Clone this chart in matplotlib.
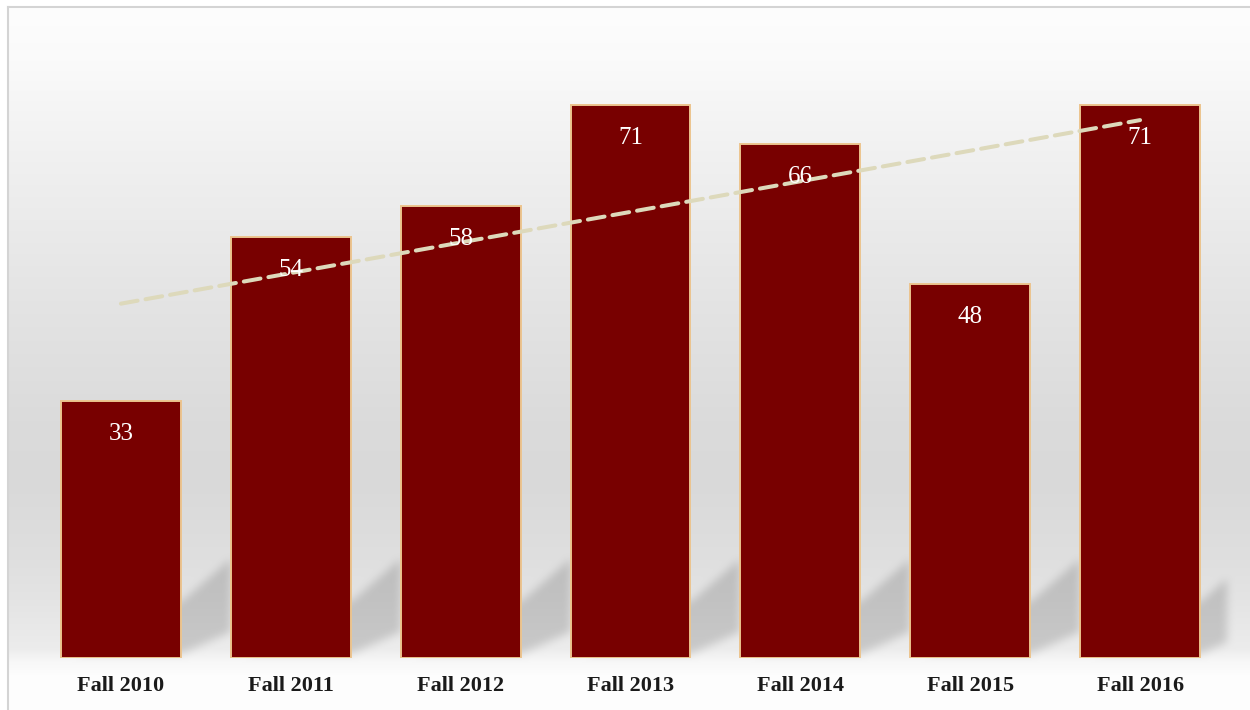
import numpy as np
import matplotlib
matplotlib.use("Agg")
import matplotlib.pyplot as plt
from matplotlib.path import Path
from matplotlib.lines import Line2D

categories = ["Fall 2010", "Fall 2011", "Fall 2012", "Fall 2013", "Fall 2014", "Fall 2015", "Fall 2016"]
values = [33, 54, 58, 71, 66, 48, 71]

W, H = 1250, 710
fig = plt.figure(figsize=(W / 100, H / 100), dpi=100)
fig.patch.set_facecolor("white")

# main axes (pixel layout)
left, right, top, bottom = 36, 1225, 35, 658
ax = fig.add_axes([left / W, (H - bottom) / H, (right - left) / W, (bottom - top) / H], zorder=2)
ax.patch.set_alpha(0)
x = np.arange(len(categories))
ax.set_xlim(-0.5, len(categories) - 0.5)
ax.set_ylim(0, 80)

# ---- background gradient + shadows (decoration) ----
rows = np.arange(H)
prof_r = [0, 8, 60, 150, 300, 420, 480, 560, 600, 648, 662, 675, 710]
prof_v = [255, 253, 250, 241, 228, 219, 217, 223, 228, 236, 248, 253, 254]
col = np.interp(rows, prof_r, prof_v) / 255.0
bg = np.ones((H, W)) * col[:, None]
bg[:, :9] = 1.0
bg[:8, :] = 1.0

bw = 0.705
mask = np.zeros((H, W))
yy, xx = np.mgrid[0:H, 0:W]
pts = np.column_stack([xx.ravel() + 0.5, yy.ravel() + 0.5])
for i, v in enumerate(values):
    xr_disp = ax.transData.transform((x[i] + bw / 2, 0))[0]
    xl_disp = ax.transData.transform((x[i] - bw / 2, 0))[0]
    yb = bottom - 4
    d = 50
    poly = [(xl_disp + 20, yb), (xr_disp, yb), (xr_disp + d, yb - 22),
            (xr_disp + d, yb - 95), (xr_disp, yb - 52), (xl_disp + 20, yb - 52)]
    p = Path(poly)
    m = p.contains_points(pts).reshape(H, W)
    mask = np.maximum(mask, m.astype(float))
mask[:, 1227:] = 0

def box_blur(a, r):
    k = np.ones(2 * r + 1) / (2 * r + 1)
    a = np.apply_along_axis(lambda c: np.convolve(c, k, mode="same"), 0, a)
    a = np.apply_along_axis(lambda c: np.convolve(c, k, mode="same"), 1, a)
    return a

mask = box_blur(box_blur(mask, 5), 4)
bg = bg * (1 - 0.15 * mask)
rgb = np.dstack([bg, bg, bg])

bg_ax = fig.add_axes([0, 0, 1, 1], zorder=0)
bg_ax.imshow(rgb, extent=(0, W, H, 0), aspect="auto", interpolation="bilinear")
bg_ax.set_xlim(0, W)
bg_ax.set_ylim(H, 0)
bg_ax.axis("off")

# frame lines
fig.add_artist(Line2D([8 / W, 8 / W], [0, (H - 7) / H], color="#d4d4d4", lw=1.5, transform=fig.transFigure, zorder=3))
fig.add_artist(Line2D([8 / W, 1], [(H - 7) / H, (H - 7) / H], color="#d4d4d4", lw=1.5, transform=fig.transFigure, zorder=3))

# ---- bars ----
ax.bar(x, values, width=bw, color="#780000", edgecolor="#ecc48e", linewidth=1.4, zorder=2)

# value labels
for xi, v in zip(x, values):
    ax.annotate(str(v), (xi, v), xytext=(0, -23.5), textcoords="offset points",
                ha="center", va="center", color="white", fontsize=18,
                family="Liberation Serif", zorder=5)

# linear trendline
coef = np.polyfit(x, values, 1)
ax.plot(x[[0, -1]], np.polyval(coef, x[[0, -1]]), color="#ddd9bb", lw=2.9,
        dashes=(4.2, 2.0), dash_capstyle="round", zorder=4)

ax.set_xticks(x)
ax.set_xticklabels(categories, fontsize=16, fontweight="bold", family="Liberation Serif", color="#1a1a1a")
ax.tick_params(axis="x", length=0, pad=13)
ax.set_yticks([])
for s in ax.spines.values():
    s.set_visible(False)

fig.savefig("out.png", dpi=100)
